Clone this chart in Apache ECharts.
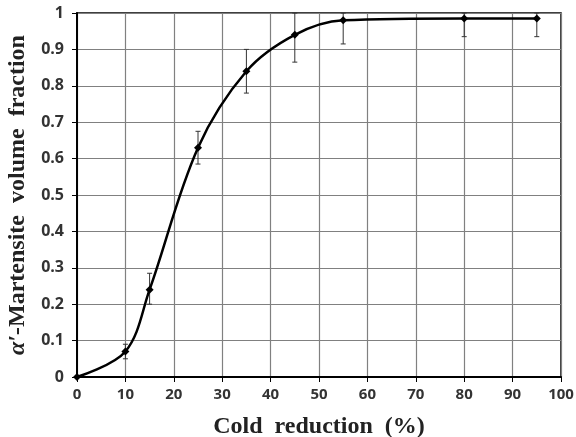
<!DOCTYPE html>
<html>
<head>
<meta charset="utf-8">
<script src="https://cdn.jsdelivr.net/npm/echarts@6/dist/echarts.min.js"></script>
<style>html,body{margin:0;padding:0;background:#fff;}#c{width:576px;height:437px;}</style>
</head>
<body>
<div id="c"></div>
<script>
var reduction = [0, 10, 15, 25, 35, 45, 55, 80, 95];
var fraction = [0, 0.07, 0.24, 0.63, 0.84, 0.94, 0.98, 0.985, 0.985];
var errLow = [0, 0.05, 0.20, 0.585, 0.78, 0.865, 0.915, 0.935, 0.935];
var errHigh = [0, 0.09, 0.285, 0.675, 0.90, 1.0, 1.0, 1.0, 1.0];

var chart = echarts.init(document.getElementById('c'));
var lineData = reduction.map(function (x, i) { return [x, fraction[i]]; });
var errData = reduction.map(function (x, i) { return [x, errLow[i], errHigh[i]]; });

chart.setOption({
  animation: false,
  grid: { left: 77, right: 15, top: 13, bottom: 60, containLabel: false, outerBoundsMode: 'none',
    show: true, borderColor: '#000', borderWidth: 1.5, backgroundColor: 'transparent' },
  xAxis: {
    type: 'value', min: 0, max: 100, interval: 10,
    axisLine: { show: true, onZero: false, lineStyle: { color: '#000', width: 2 } },
    axisTick: { show: true, length: 5, lineStyle: { color: '#000', width: 1 } },
    axisLabel: { color: '#333', fontFamily: 'Open Sans, Liberation Sans', fontWeight: 'bold', fontSize: 15, margin: 10 },
    splitLine: { show: true, lineStyle: { color: '#808080', width: 1.2 } },
    name: 'Cold  reduction  (%)', nameLocation: 'middle', nameGap: 38,
    nameTextStyle: { color: '#222', fontFamily: 'Liberation Serif, Times New Roman', fontWeight: 'bold', fontSize: 24 }
  },
  yAxis: {
    type: 'value', min: 0, max: 1, interval: 0.1,
    axisLine: { show: true, onZero: false, lineStyle: { color: '#000', width: 2 } },
    axisTick: { show: true, length: 5, lineStyle: { color: '#000', width: 1 } },
    axisLabel: { color: '#333', fontFamily: 'Open Sans, Liberation Sans', fontWeight: 'bold', fontSize: 16, margin: 13,
      formatter: function (v) { return String(Math.round(v * 10) / 10); } },
    splitLine: { show: true, lineStyle: { color: '#808080', width: 1.2 } },
    name: '{a|α′}{b|-Martensite  volume  fraction}', nameLocation: 'middle', nameGap: 43, nameRotate: 90,
    nameTextStyle: {
      rich: {
        a: { color: '#222', fontFamily: 'Liberation Serif, Times New Roman', fontWeight: 'bold', fontStyle: 'italic', fontSize: 24 },
        b: { color: '#222', fontFamily: 'Liberation Serif, Times New Roman', fontWeight: 'bold', fontSize: 24 }
      }
    }
  },
  series: [
    {
      type: 'custom',
      data: errData,
      z: 3,
      renderItem: function (params, api) {
        var x = api.value(0);
        var lo = api.coord([x, api.value(1)]);
        var hi = api.coord([x, api.value(2)]);
        var w = 2.5;
        var st = { stroke: '#333', lineWidth: 1 };
        return {
          type: 'group',
          children: [
            { type: 'line', shape: { x1: lo[0], y1: lo[1], x2: hi[0], y2: hi[1] }, style: st },
            { type: 'line', shape: { x1: lo[0] - w, y1: lo[1], x2: lo[0] + w, y2: lo[1] }, style: st },
            { type: 'line', shape: { x1: hi[0] - w, y1: hi[1], x2: hi[0] + w, y2: hi[1] }, style: st }
          ]
        };
      }
    },
    {
      type: 'line',
      data: lineData,
      smooth: 0.35,
      z: 4,
      symbol: 'diamond',
      symbolSize: 8,
      itemStyle: { color: '#000' },
      lineStyle: { color: '#000', width: 2.5 }
    }
  ]
});
</script>
</body>
</html>
